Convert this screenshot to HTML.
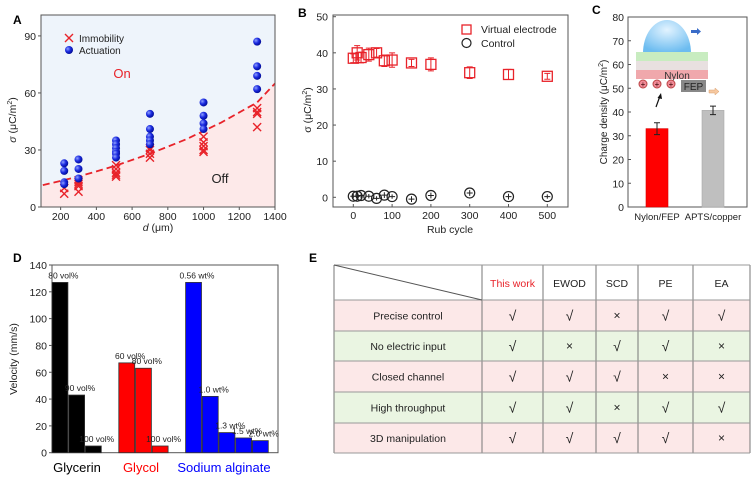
<!DOCTYPE html>
<html><head><meta charset="utf-8"><style>
body{margin:0;background:#fff}
svg{display:block;font-family:"Liberation Sans",Arial,sans-serif}
</style></head><body>
<svg id="fig" width="753" height="478" viewBox="0 0 753 478" xmlns="http://www.w3.org/2000/svg">
<defs>
<radialGradient id="ball" cx="0.35" cy="0.35" r="0.7"><stop offset="0" stop-color="#8fa0ff"/><stop offset="0.5" stop-color="#1a2ae0"/><stop offset="1" stop-color="#000a90"/></radialGradient>
<radialGradient id="drop" cx="0.5" cy="0.3" r="0.7"><stop offset="0" stop-color="#e2f3ff"/><stop offset="1" stop-color="#6cbcf0"/></radialGradient>
</defs>
<g id="pA"></g>
<g id="pB"></g>
<g id="pC"></g>
<g id="pD"></g>
<g id="pE"></g>
</svg>
<script>
// ---------- Panel A data ----------
const aXTicks=[200,400,600,800,1000,1200,1400];
const aYTicks=[0,30,60,90];
const aBlueX=[220,220,220,220,300,300,300,510,510,510,510,510,510,700,700,700,700,700,1000,1000,1000,1000,1300,1300,1300,1300];
const aBlueY=[23,19,13,12,25,20,15,35,33,31,29,28,26,49,41,37,35,33,55,48,44,41,87,74,69,62];
const aRedX=[220,220,300,300,300,300,300,510,510,510,510,510,700,700,700,700,1000,1000,1000,1000,1000,1300,1300,1300,1300];
const aRedY=[10,7,14,13,12,11,8,22,20,18,17,16,31,30,28,26,37,34,32,30,29,52,50,49,42];
const aLineX=[100,300,500,700,900,1100,1300,1400];
const aLineY=[11.5,16,21.5,28,35.5,44.5,55,65];
// ---------- Panel B data ----------
const bXTicks=[0,100,200,300,400,500];
const bYTicks=[0,10,20,30,40,50];
const bX=[0,10,20,40,60,80,100,150,200,300,400,500];
const bVirtual=[38.5,40,38.7,39.5,40,37.8,38,37.2,36.8,34.5,34,33.5];
const bVirtualErr=[1.2,2,1.5,1.8,1.2,1.6,2,1,1.8,1.6,1.4,0.8];
const bControl=[0.3,0.3,0.5,0.3,-0.3,0.6,0.2,-0.5,0.5,1.2,0.2,0.2];
const bControlErr=[0.6,0.6,0.8,0.6,0.6,0.8,0.6,0.8,0.8,0.8,0.8,0.6];
// ---------- Panel C data ----------
const cCats=["Nylon/FEP","APTS/copper"];
const cVals=[33,40.7];
const cErr=[2.5,1.8];
const cYTicks=[0,10,20,30,40,50,60,70,80];
// ---------- Panel D data ----------
const dSlots=[0,1,2,4,5,6,8,9,10,11,12];
const dVals=[127,43,5,67,63,5,127,42,15,11,9];
const dLabels=["80 vol%","90 vol%","100 vol%","60 vol%","80 vol%","100 vol%","0.56 wt%","1.0 wt%","1.3 wt%","1.5 wt%","2.0 wt%"];
const dColors=["#000","#000","#000","#f00","#f00","#f00","#00f","#00f","#00f","#00f","#00f"];
const dYTicks=[0,20,40,60,80,100,120,140];
// ---------- Panel E data ----------
const eCols=["This work","EWOD","SCD","PE","EA"];
const eRows=["Precise control","No electric input","Closed channel","High throughput","3D manipulation"];
const eCells=[["√","√","×","√","√"],["√","×","√","√","×"],["√","√","√","×","×"],["√","√","×","√","√"],["√","√","√","√","×"]];

const NS="http://www.w3.org/2000/svg";
function mk(parent,tag,attrs,text){const e=document.createElementNS(NS,tag);for(const k in attrs)e.setAttribute(k,attrs[k]);if(text!==undefined)e.textContent=text;parent.appendChild(e);return e;}
function lin(d0,d1,r0,r1){return v=>r0+(v-d0)*(r1-r0)/(d1-d0);}

// ===== Panel A =====
(function(){
const g=document.getElementById('pA');
const L=41,R=275,T=15,B=207;
const x=lin(90,1400,L,R), y=lin(0,101,B,T);
let e;
e=mk(g,'rect',{x:L,y:T,width:R-L,height:B-T,fill:'#eef4fb'});

let pts=aLineX.map((v,i)=>x(v)+','+y(aLineY[i]));
e=mk(g,'polygon',{points:pts.join(' ')+' '+R+','+B+' '+L+','+B,fill:'#fde9e9'});

e=mk(g,'polyline',{points:pts.join(' '),fill:'none',stroke:'#e8232a','stroke-width':1.8,'stroke-dasharray':'7,4'});

aRedX.forEach((v,i)=>{const cx=x(v),cy=y(aRedY[i]);
 e=mk(g,'path',{d:`M${cx-4},${cy-4}L${cx+4},${cy+4}M${cx+4},${cy-4}L${cx-4},${cy+4}`,stroke:'#e8232a','stroke-width':1.4});
 });
aBlueX.forEach((v,i)=>{
 e=mk(g,'circle',{cx:x(v),cy:y(aBlueY[i]),r:4,fill:'url(#ball)'});
 });
e=mk(g,'rect',{x:L,y:T,width:R-L,height:B-T,fill:'none',stroke:'#555','stroke-width':1});

aXTicks.forEach(v=>{mk(g,'line',{x1:x(v),x2:x(v),y1:B,y2:B+3,stroke:'#555'});
 e=mk(g,'text',{x:x(v),y:B+13,'font-size':10.5,'text-anchor':'middle',fill:'#222'},v);
 });
aYTicks.forEach(v=>{mk(g,'line',{x1:L-3,x2:L,y1:y(v),y2:y(v),stroke:'#555'});
 e=mk(g,'text',{x:L-5,y:y(v)+4,'font-size':10.5,'text-anchor':'end',fill:'#222'},v);
 });
e=mk(g,'text',{x:158,y:231,'font-size':10.5,'text-anchor':'middle',fill:'#222'});
e.innerHTML='<tspan font-style="italic">d</tspan> (μm)';

e=mk(g,'text',{x:0,y:0,'font-size':10.5,'text-anchor':'middle',fill:'#222',transform:'translate(16,120) rotate(-90)'});
e.innerHTML='<tspan font-style="italic">σ</tspan> (μC/m<tspan font-size="7" dy="-4">2</tspan><tspan dy="4">)</tspan>';

e=mk(g,'text',{x:13,y:24,'font-size':12,'font-weight':'bold',fill:'#000'},'A');

mk(g,'path',{d:'M65,34L73,42M73,34L65,42',stroke:'#e8232a','stroke-width':1.4});
mk(g,'circle',{cx:69,cy:50,r:4,fill:'url(#ball)'});
e=mk(g,'text',{x:79,y:42,'font-size':10,fill:'#222'},'Immobility');

e=mk(g,'text',{x:79,y:54,'font-size':10,fill:'#222'},'Actuation');

e=mk(g,'text',{x:122,y:78,'font-size':13,'text-anchor':'middle',fill:'#e8232a'},'On');

e=mk(g,'text',{x:220,y:183,'font-size':13,'text-anchor':'middle',fill:'#222'},'Off');

})();

// ===== Panel B =====
(function(){
const g=document.getElementById('pB');
const L=333,R=568,T=15,B=207;
const x=lin(0,500,353.3,547.3), y=lin(0,50,197.3,16.7);
let e;
e=mk(g,'rect',{x:L,y:T,width:R-L,height:B-T,fill:'#fff',stroke:'#555'});

bX.forEach((v,i)=>{const cx=x(v),cy=y(bVirtual[i]),ey=bVirtualErr[i]*(y(0)-y(1));
 mk(g,'path',{d:`M${cx},${cy-ey}V${cy+ey}M${cx-3},${cy-ey}h6M${cx-3},${cy+ey}h6`,stroke:'#e8232a','stroke-width':1});
 e=mk(g,'rect',{x:cx-5,y:cy-5,width:10,height:10,fill:'none',stroke:'#e8232a','stroke-width':1.3});
 
 const cy2=y(bControl[i]),ey2=bControlErr[i]*(y(0)-y(1));
 mk(g,'path',{d:`M${cx},${cy2-ey2}V${cy2+ey2}M${cx-3},${cy2}h6`,stroke:'#222','stroke-width':1});
 e=mk(g,'circle',{cx:cx,cy:cy2,r:5,fill:'none',stroke:'#222','stroke-width':1.2});
 });
bXTicks.forEach(v=>{mk(g,'line',{x1:x(v),x2:x(v),y1:B,y2:B-3,stroke:'#555'});
 e=mk(g,'text',{x:x(v),y:B+12,'font-size':10.5,'text-anchor':'middle',fill:'#222'},v);
 });
bYTicks.forEach(v=>{mk(g,'line',{x1:L,x2:L+3,y1:y(v),y2:y(v),stroke:'#555'});
 e=mk(g,'text',{x:L-5,y:y(v)+4,'font-size':10.5,'text-anchor':'end',fill:'#222'},v);
 });
e=mk(g,'text',{x:450,y:233,'font-size':10.5,'text-anchor':'middle',fill:'#222'},'Rub cycle');

e=mk(g,'text',{x:0,y:0,'font-size':10.5,'text-anchor':'middle',fill:'#222',transform:'translate(311,110) rotate(-90)'});
e.innerHTML='σ (μC/m<tspan font-size="7" dy="-4">2</tspan><tspan dy="4">)</tspan>';

e=mk(g,'text',{x:298,y:17,'font-size':12,'font-weight':'bold',fill:'#000'},'B');

mk(g,'rect',{x:462,y:25,width:9,height:9,fill:'none',stroke:'#e8232a','stroke-width':1.3});
mk(g,'circle',{cx:466.5,cy:43,r:4.5,fill:'none',stroke:'#222','stroke-width':1.2});
e=mk(g,'text',{x:481,y:33,'font-size':10.5,fill:'#222'},'Virtual electrode');

e=mk(g,'text',{x:481,y:47,'font-size':10.5,fill:'#222'},'Control');

})();

// ===== Panel C =====
(function(){
const g=document.getElementById('pC');
const L=628,R=747,T=17,B=207;
const y=lin(0,80,B,T);const cx=[657,713];const cols=['#ff0000','#bfbfbf'];
let e;
e=mk(g,'rect',{x:L,y:T,width:R-L,height:B-T,fill:'#fff',stroke:'#555'});

cVals.forEach((v,i)=>{
 e=mk(g,'rect',{x:cx[i]-11,y:y(v),width:22,height:B-y(v),fill:cols[i],stroke:i?'#aaa':'#d00','stroke-width':0.6});
 
 const t=y(v+cErr[i]),b=y(v-cErr[i]);
 mk(g,'path',{d:`M${cx[i]},${t}V${b}M${cx[i]-3},${t}h6M${cx[i]-3},${b}h6`,stroke:'#222','stroke-width':1});
 e=mk(g,'text',{x:cx[i],y:B+13,'font-size':9.5,'text-anchor':'middle',fill:'#222'},cCats[i]);
 });
cYTicks.forEach(v=>{mk(g,'line',{x1:L,x2:L+3,y1:y(v),y2:y(v),stroke:'#555'});
 e=mk(g,'text',{x:L-4,y:y(v)+4,'font-size':10.5,'text-anchor':'end',fill:'#222'},v);
 });
e=mk(g,'text',{x:0,y:0,'font-size':10,'text-anchor':'middle',fill:'#222',transform:'translate(607,112) rotate(-90)'});
e.innerHTML='Charge density (μC/m<tspan font-size="7" dy="-4">2</tspan><tspan dy="4">)</tspan>';

e=mk(g,'text',{x:592,y:14,'font-size':12,'font-weight':'bold',fill:'#000'},'C');

// inset
const ins=mk(g,'g',{});
mk(ins,'path',{d:'M643,53A24,33 0 0 1 691,53Z',fill:'url(#drop)'});
mk(ins,'rect',{x:636,y:52,width:72,height:9,fill:'#c8ecc0'});
mk(ins,'rect',{x:636,y:61,width:72,height:9,fill:'#e8e0e0'});
mk(ins,'rect',{x:636,y:70,width:72,height:9,fill:'#f0a8ac'});
mk(ins,'text',{x:677,y:79,'font-size':10,'text-anchor':'middle',fill:'#333'},'Nylon');
mk(ins,'rect',{x:681,y:80,width:25,height:12,fill:'#888'});
mk(ins,'text',{x:693.5,y:90,'font-size':10,'text-anchor':'middle',fill:'#222'},'FEP');
[643,657,671].forEach(px=>{mk(ins,'circle',{cx:px,cy:84,r:4,fill:'#f08a96',stroke:'#b44'});mk(ins,'text',{x:px,y:87,'font-size':8,'text-anchor':'middle',fill:'#300'},'+');});
mk(ins,'path',{d:'M691,30h6v-2l4,3.5l-4,3.5v-2h-6z',fill:'#3a6cc8'});
mk(ins,'path',{d:'M709,90h6v-2l4,3.5l-4,3.5v-2h-6z',fill:'#f6c8a0',stroke:'#d9a070','stroke-width':0.5});
mk(ins,'path',{d:'M656,107L660,96',stroke:'#111','stroke-width':1.2});
mk(ins,'path',{d:'M657.5,98L661,93L662,99Z',fill:'#111'});
})();

// ===== Panel D =====
(function(){
const g=document.getElementById('pD');
const L=52,R=278,T=265,B=452.7;
const y=lin(0,140,B,T);const sw=16.7;const xs=s=>L+s*sw;
let e;
e=mk(g,'rect',{x:L,y:T,width:R-L,height:B-T,fill:'#fff',stroke:'#555'});

dVals.forEach((v,i)=>{
 e=mk(g,'rect',{x:xs(dSlots[i]),y:y(v),width:sw-0.8,height:B-y(v),fill:dColors[i],stroke:'#333','stroke-width':0.8});
 
 e=mk(g,'text',{x:xs(dSlots[i])+sw/2+3,y:y(v)-4,'font-size':8.5,'text-anchor':'middle',fill:'#222'},dLabels[i]);
 });
dYTicks.forEach(v=>{mk(g,'line',{x1:L-3,x2:L,y1:y(v),y2:y(v),stroke:'#555'});
 e=mk(g,'text',{x:L-5,y:y(v)+4,'font-size':10.5,'text-anchor':'end',fill:'#222'},v);
 });
[['Glycerin',77,'#000'],['Glycol',141,'#f00'],['Sodium alginate',224,'#00f']].forEach(c=>{
 e=mk(g,'text',{x:c[1],y:472,'font-size':13,'text-anchor':'middle',fill:c[2]},c[0]);
 });
e=mk(g,'text',{x:0,y:0,'font-size':10.5,'text-anchor':'middle',fill:'#222',transform:'translate(17,359) rotate(-90)'},'Velocity (mm/s)');

e=mk(g,'text',{x:13,y:262,'font-size':12,'font-weight':'bold',fill:'#000'},'D');

})();

// ===== Panel E =====
(function(){
const g=document.getElementById('pE');
const xs=[334,482,543,596,638,693,750];const ys=[265,300,331,361,392,423,453];
let e;
e=mk(g,'text',{x:309,y:262,'font-size':12,'font-weight':'bold',fill:'#000'},'E');

eRows.forEach((r,i)=>{
 e=mk(g,'rect',{x:334,y:ys[i+1],width:416,height:ys[i+2]-ys[i+1],fill:i%2?'#eaf5e2':'#fce8e8'});
 
 e=mk(g,'text',{x:408,y:(ys[i+1]+ys[i+2])/2+4,'font-size':10.5,'text-anchor':'middle',fill:'#222'},r);
 
 eCells[i].forEach((c,j)=>{
  e=mk(g,'text',{x:(xs[j+1]+xs[j+2])/2,y:(ys[i+1]+ys[i+2])/2+(c==='√'?5:4),'font-size':c==='√'?14:12,'text-anchor':'middle',fill:'#222'},c);
  });});
eCols.forEach((c,j)=>{
 e=mk(g,'text',{x:(xs[j+1]+xs[j+2])/2,y:287,'font-size':10.5,'text-anchor':'middle',fill:j?'#222':'#e8232a'},c);
 });
xs.forEach(v=>mk(g,'line',{x1:v,x2:v,y1:265,y2:453,stroke:'#777','stroke-width':1}));
ys.forEach(v=>mk(g,'line',{x1:334,x2:750,y1:v,y2:v,stroke:'#999','stroke-width':1}));
mk(g,'line',{x1:334,y1:265,x2:482,y2:300,stroke:'#555','stroke-width':1});
})();
</script>
</body></html>
